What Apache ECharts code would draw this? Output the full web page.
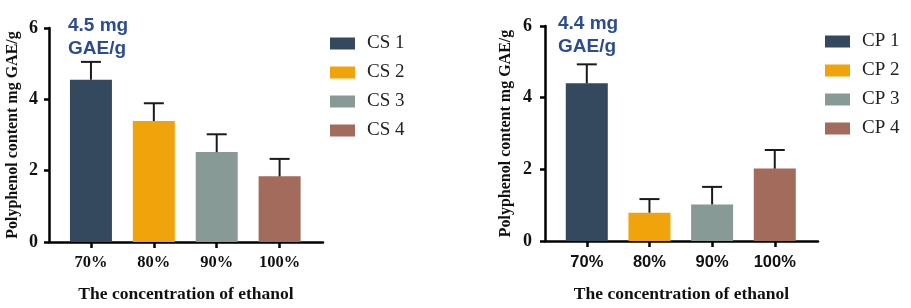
<!DOCTYPE html>
<html>
<head>
<meta charset="utf-8">
<script src="https://cdn.jsdelivr.net/npm/echarts@6/dist/echarts.min.js"></script>
<style>
  html, body { margin: 0; padding: 0; background: #fff; }
  #main { width: 911px; height: 308px; }
</style>
</head>
<body>
<div id="main"></div>
<script>
// ethanol concentration groups
var categories = ['70%', '80%', '90%', '100%'];
var tickPositions = [0, 1, 2, 3];

// left panel
var csNames = ['CS 1', 'CS 2', 'CS 3', 'CS 4'];
var csValues = [4.55, 3.39, 2.52, 1.84];
var csErrors = [0.50, 0.50, 0.50, 0.49];

// right panel
var cpNames = ['CP 1', 'CP 2', 'CP 3', 'CP 4'];
var cpValues = [4.40, 0.79, 1.02, 2.02];
var cpErrors = [0.53, 0.38, 0.49, 0.52];

var barColors = ['#34495e', '#f0a30a', '#879a96', '#a36b5b'];

var serif = '"Liberation Serif", "Times New Roman", serif';
var sans = '"Liberation Sans", Arial, sans-serif';

var chart = echarts.init(document.getElementById('main'));

function xAxisFor(idx, labelFont, nameGap, labelMargin) {
    return {
        type: 'value',
        gridIndex: idx,
        min: -0.667,
        max: 3.69,
        name: 'The concentration of ethanol',
        nameLocation: 'middle',
        nameGap: nameGap,
        nameTextStyle: {fontFamily: serif, fontWeight: 'bold', fontSize: 17.5, color: '#111'},
        axisLine: {show: true, onZero: false, lineStyle: {color: '#000', width: 2.5}},
        axisTick: {show: true, customValues: tickPositions, length: 6, lineStyle: {color: '#000', width: 2.5}},
        axisLabel: {
            customValues: tickPositions,
            margin: labelMargin,
            fontFamily: labelFont,
            fontWeight: 'bold',
            fontSize: 16.5,
            color: '#111',
            formatter: function (v) { return categories[Math.round(v)]; }
        },
        splitLine: {show: false}
    };
}

function yAxisFor(idx, nameGap, labelMargin) {
    return {
        type: 'value',
        gridIndex: idx,
        min: 0,
        max: 6,
        interval: 2,
        name: 'Polyphenol content mg GAE/g',
        nameLocation: 'middle',
        nameGap: nameGap,
        nameTextStyle: {fontFamily: serif, fontWeight: 'bold', fontSize: 16, color: '#111'},
        axisLine: {show: true, onZero: false, lineStyle: {color: '#000', width: 2.5}},
        axisTick: {show: true, length: 5, lineStyle: {color: '#000', width: 2.5}},
        axisLabel: {margin: labelMargin, fontFamily: serif, fontWeight: 'bold', fontSize: 18, color: '#111'},
        splitLine: {show: false}
    };
}

function barSeries(names, values, idx) {
    return names.map(function (n, i) {
        return {
            name: n,
            type: 'bar',
            xAxisIndex: idx,
            yAxisIndex: idx,
            barWidth: 42,
            barGap: '-100%',
            itemStyle: {color: barColors[i]},
            data: [[i, values[i]]]
        };
    });
}

function errorSeries(values, errors, idx) {
    return {
        type: 'custom',
        xAxisIndex: idx,
        yAxisIndex: idx,
        z: 5,
        silent: true,
        data: values.map(function (v, i) { return [i, v, errors[i]]; }),
        renderItem: function (params, api) {
            var x = api.value(0);
            var lo = api.coord([x, api.value(1)]);
            var hi = api.coord([x, api.value(1) + api.value(2)]);
            var style = {stroke: '#1a1a1a', lineWidth: 2};
            return {
                type: 'group',
                children: [
                    {type: 'line', shape: {x1: lo[0], y1: lo[1], x2: hi[0], y2: hi[1]}, style: style},
                    {type: 'line', shape: {x1: hi[0] - 10, y1: hi[1], x2: hi[0] + 10, y2: hi[1]}, style: style}
                ]
            };
        }
    };
}

var legendBase = {
    orient: 'vertical',
    icon: 'rect',
    padding: 0,
    itemWidth: 25,
    itemHeight: 12,
    itemGap: 10,
    textStyle: {fontFamily: serif, fontSize: 19, color: '#222', lineHeight: 18, padding: [0, 0, 0, 7]}
};

var noteStyle = {fontFamily: sans, fontWeight: 'bold', fontSize: 19, lineHeight: 23, color: '#2b4c94'};

chart.setOption({
    animation: false,
    title: [
        {text: '4.5 mg\nGAE/g', left: 68, top: 14, padding: 0, textStyle: noteStyle},
        {text: '4.4 mg\nGAE/g', left: 558, top: 12, padding: 0, textStyle: noteStyle}
    ],
    legend: [
        Object.assign({}, legendBase, {data: csNames, left: 330, top: 34}),
        Object.assign({}, legendBase, {data: cpNames, left: 825, top: 32})
    ],
    grid: [
        {left: 49, top: 28, width: 274, height: 217},
        {left: 545, top: 26, width: 273, height: 215}
    ],
    xAxis: [
        xAxisFor(0, serif, 43, 12),
        xAxisFor(1, sans, 44, 13)
    ],
    yAxis: [
        yAxisFor(0, 28, 11),
        yAxisFor(1, 31, 13)
    ],
    series: barSeries(csNames, csValues, 0)
        .concat(barSeries(cpNames, cpValues, 1))
        .concat([errorSeries(csValues, csErrors, 0), errorSeries(cpValues, cpErrors, 1)])
});
</script>
</body>
</html>
